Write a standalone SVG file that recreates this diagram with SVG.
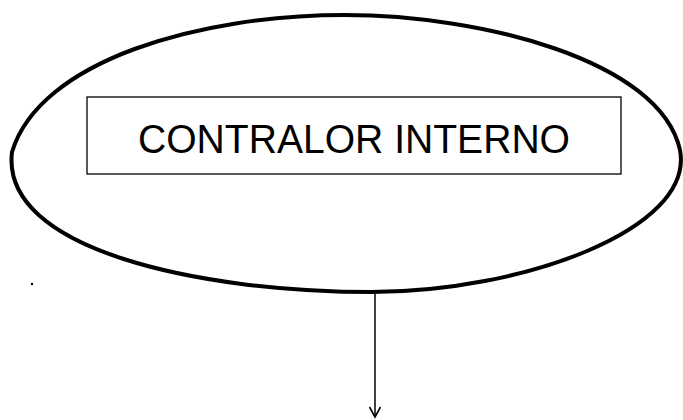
<svg xmlns="http://www.w3.org/2000/svg" width="683" height="420" viewBox="0 0 683 420">
<style>
.shape{fill:none;stroke:#000}
.lbl{font-family:"Liberation Sans",Arial,sans-serif;font-size:41px;fill:#000}
</style>
<defs>
<marker id="arr" markerWidth="14" markerHeight="14" refX="11" refY="7" orient="auto" markerUnits="userSpaceOnUse">
<path d="M1,1.5 L11,7 L1,12.5" fill="none" stroke="#000" stroke-width="1.6"/>
</marker>
</defs>
<rect width="683" height="420" fill="#fff"/>
<g id="node-contralor">
<path class="shape" stroke-width="4" d="M12,152 C40,60 200,15 345,15 C480,15 660,60 680,150 C695,230 520,292 372,292 C200,292 0,250 12,152 Z"/>
<rect class="shape" stroke-width="1.3" x="87" y="97" width="534" height="77"/>
<text class="lbl" x="354" y="153" text-anchor="middle" textLength="432" lengthAdjust="spacingAndGlyphs">CONTRALOR INTERNO</text>
</g>
<g id="connectors">
<line class="shape" stroke-width="1.5" x1="375" y1="293" x2="375" y2="417" marker-end="url(#arr)"/>
</g>
<circle cx="32" cy="284" r="1.2" fill="#000"/>
</svg>
